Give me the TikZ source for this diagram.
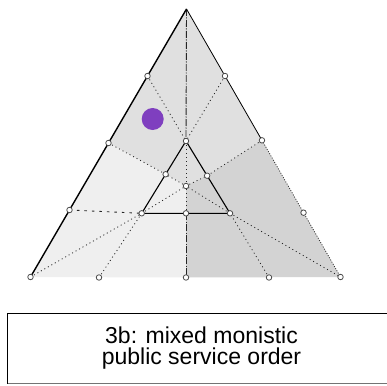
\documentclass[tikz,border=0pt]{standalone}
\usepackage{fontspec}
\setmainfont{Liberation Sans}
\usepackage{xcolor}
\definecolor{dotpurple}{HTML}{7F3FBF}
\definecolor{topgray}{HTML}{E0E0E0}
\definecolor{leftgray}{HTML}{EFEFEF}
\definecolor{rightgray}{HTML}{D3D3D3}
\usetikzlibrary{calc}
\tikzset{
  pt/.style={circle, draw=black!70, fill=white, inner sep=0pt,
             minimum size=5.5pt, line width=0.8pt},
  rim/.style={draw=black, line width=1.4pt},
  tri/.style={draw=black, line width=1.1pt},
  dotln/.style={draw=black!85, line width=0.8pt, dash pattern=on 1pt off 3pt},
  dashln/.style={draw=black!85, line width=0.9pt, dash pattern=on 2.5pt off 5pt},
  dashdot/.style={draw=black!85, line width=0.9pt,
                  dash pattern=on 7pt off 1.5pt on 1pt off 1.5pt},
}

\begin{document}
\begin{tikzpicture}[x=1pt, y=-1pt]
  \useasboundingbox (0,0) rectangle (387,385);
  \coordinate (top) at (186.5,9);
  \coordinate (bl) at (30.5,277);
  \coordinate (br) at (340.5,277);
  \coordinate (l1) at ($(top)!0.25!(bl)$);
  \coordinate (l2) at ($(top)!0.5!(bl)$);
  \coordinate (l3) at ($(top)!0.75!(bl)$);
  \coordinate (r1) at ($(top)!0.25!(br)$);
  \coordinate (r2) at ($(top)!0.49!(br)$);
  \coordinate (r3) at ($(top)!0.76!(br)$);
  \coordinate (b1) at (99,277.5);
  \coordinate (b2) at (186,277.5);
  \coordinate (b3) at (269,277.5);
  \coordinate (ia) at (186,141);
  \coordinate (ibl) at (141.7,213.3);
  \coordinate (ibr) at (230,213.3);
  \coordinate (il) at ($(ia)!0.46!(ibl)$);
  \coordinate (ir) at ($(ia)!0.48!(ibr)$);
  \coordinate (ib) at (186,213.3);
  \coordinate (ic) at (186,186);

  \fill[topgray] (top) -- (l2) -- (il) -- (ic) -- (ir) -- (r2) -- cycle;
  \fill[leftgray] (l2) -- (bl) -- (b2) -- (ic) -- (il) -- cycle;
  \fill[rightgray] (r2) -- (ir) -- (ic) -- (b2) -- (br) -- cycle;

  \draw[dashdot] (top) -- (ia);
  \draw[dotln] (ia) -- (ic) -- (ib);
  \draw[dashdot] (ib) -- (b2);
  \draw[dotln] (l1) -- (ia);
  \draw[dotln] (r1) -- (ia);
  \draw[dotln] (l2) -- (il) -- (ic);
  \draw[dotln] (r2) -- (ir) -- (ic);
  \draw[dashln] (l3) -- (ibl);
  \draw[dotln] (bl) -- (ibl);
  \draw[dotln] (b1) -- (ibl);
  \draw[dotln] (ibl) -- (ic);
  \draw[dotln] (ibr) -- (ic);
  \draw[dotln] (ibr) -- (br);
  \draw[dotln] (b3) -- (ibr);

  \draw[tri] (ia) -- (ibl) -- (ibr) -- cycle;
  \draw[rim] (top) -- (bl);
  \draw[draw=black, line width=0.8pt] (top) -- (r2);
  \draw[draw=black!80, line width=0.8pt, dash pattern=on 1pt off 1.5pt] (r2) -- (br);

  \foreach \p in {bl,br,l1,l2,l3,r1,r2,r3,b1,b2,b3,ia,ibl,ibr,il,ir,ib,ic}
    \node[pt] (m\p) at (\p) {};

  \fill[dotpurple] (152.7,119) circle (11);

  \draw[line width=1.4pt] (7.5,383.5) |- (395,313.5);
  \draw[black!55, line width=0.8pt] (7.5,383.5) -- (395,383.5);
  \node[font=\fontsize{23}{21.5}\selectfont, align=center, inner sep=0pt]
    (lbl) at (201.5,348) {3b: mixed monistic\\public service order};
\end{tikzpicture}
\end{document}
